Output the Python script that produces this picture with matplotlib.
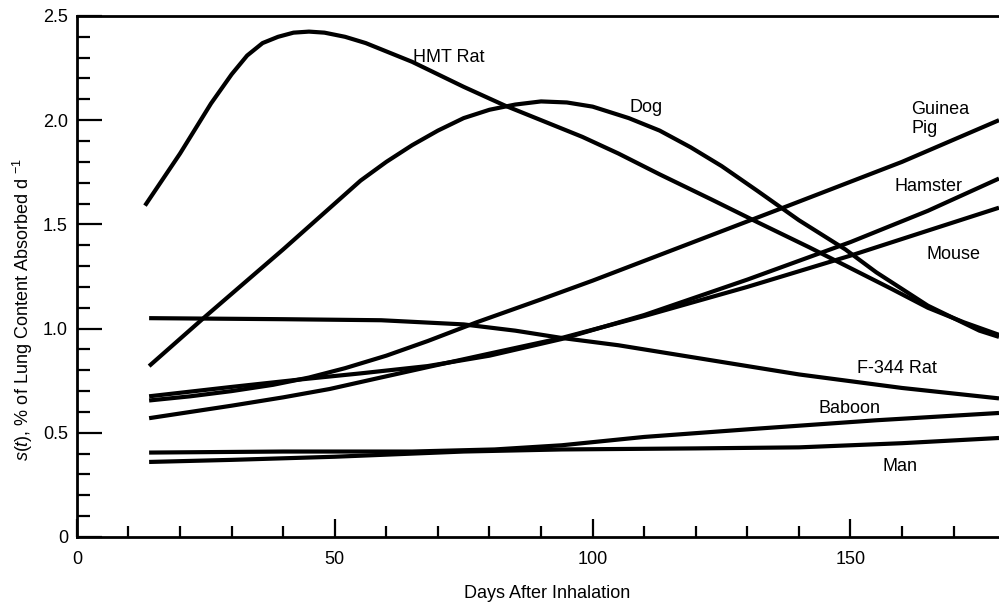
import matplotlib
matplotlib.use("Agg")
import matplotlib.pyplot as plt
from matplotlib.ticker import MultipleLocator

plt.rcParams['font.family'] = ['Liberation Sans', 'DejaVu Sans']
plt.rcParams['mathtext.fontset'] = 'custom'
plt.rcParams['mathtext.rm'] = 'Liberation Sans'
plt.rcParams['mathtext.it'] = 'Liberation Sans:italic'

# data (days, % of lung content absorbed per day)
hmt_x = [13.2, 20, 26, 30, 33, 36, 39, 42, 45, 48, 52, 56, 60, 65, 70, 75, 83, 90, 98, 105, 113, 123, 132,
         142, 150, 158, 165, 172, 178.8]
hmt_y = [1.59, 1.84, 2.08, 2.22, 2.31, 2.37, 2.40, 2.42, 2.425, 2.42, 2.40, 2.37, 2.33, 2.28, 2.22, 2.16, 2.07,
         2.00, 1.92, 1.84, 1.74, 1.62, 1.51, 1.39, 1.29, 1.19, 1.10, 1.03, 0.97]

dog_x = [14, 25, 40, 55, 60, 65, 70, 75, 80, 85, 90, 95, 100, 107, 113, 119, 125, 132, 140, 149, 155, 160,
         165, 170, 175, 178.8]
dog_y = [0.82, 1.06, 1.38, 1.71, 1.80, 1.88, 1.95, 2.01, 2.05, 2.075, 2.09, 2.085, 2.065, 2.01, 1.95, 1.87,
         1.78, 1.66, 1.52, 1.38, 1.27, 1.19, 1.11, 1.05, 0.99, 0.96]

gpig_x = [14, 22, 30, 38, 45, 52, 60, 68, 77.5, 90, 100, 119, 138, 160, 178.8]
gpig_y = [0.655, 0.675, 0.70, 0.73, 0.765, 0.81, 0.87, 0.94, 1.03, 1.14, 1.23, 1.41, 1.59, 1.80, 2.00]

hamster_x = [14, 30, 43, 55, 68, 80, 94, 110, 130, 150, 165, 178.8]
hamster_y = [0.675, 0.72, 0.755, 0.785, 0.82, 0.87, 0.95, 1.065, 1.235, 1.415, 1.565, 1.72]

mouse_x = [14, 22, 30, 40, 49, 58, 68, 80, 94, 110, 130, 150, 165, 178.8]
mouse_y = [0.57, 0.60, 0.63, 0.67, 0.71, 0.76, 0.815, 0.88, 0.955, 1.06, 1.20, 1.35, 1.47, 1.58]

f344_x = [14, 40, 59, 75, 85, 94, 105, 120, 140, 160, 178.8]
f344_y = [1.05, 1.045, 1.04, 1.02, 0.99, 0.955, 0.92, 0.86, 0.78, 0.715, 0.665]

baboon_x = [14, 40, 65, 81, 94, 110, 132, 155, 178.8]
baboon_y = [0.405, 0.41, 0.41, 0.42, 0.44, 0.48, 0.52, 0.56, 0.595]

man_x = [14, 30, 50, 75, 94, 120, 140, 160, 178.8]
man_y = [0.36, 0.37, 0.385, 0.41, 0.42, 0.425, 0.43, 0.45, 0.475]

labels = ["HMT Rat", "Dog", "Guinea\nPig", "Hamster", "Mouse", "F-344 Rat", "Baboon", "Man"]
label_x = [65.1, 107.2, 161.8, 158.5, 164.7, 151.2, 143.8, 156.2]
label_y = [2.30, 2.06, 2.005, 1.68, 1.356, 0.81, 0.615, 0.337]

fig = plt.figure(figsize=(9.99, 6.03), dpi=100)
ax = fig.add_axes([0.077, 0.1095, 0.923, 0.864])

for xs, ys in [(hmt_x, hmt_y), (dog_x, dog_y), (gpig_x, gpig_y), (hamster_x, hamster_y),
               (mouse_x, mouse_y), (f344_x, f344_y), (baboon_x, baboon_y), (man_x, man_y)]:
    ax.plot(xs, ys, color='black', lw=3.0, solid_capstyle='butt', solid_joinstyle='round', clip_on=False)

for t, x, y in zip(labels, label_x, label_y):
    ax.text(x, y, t, fontsize=13, ha='left', va='center', linespacing=1.1)

ax.set_xlim(0, 178.8)
ax.set_ylim(0, 2.5)
ax.xaxis.set_minor_locator(MultipleLocator(10))
ax.yaxis.set_minor_locator(MultipleLocator(0.1))
ax.set_yticks([0, 0.5, 1.0, 1.5, 2.0, 2.5])
ax.set_yticklabels(['0', '0.5', '1.0', '1.5', '2.0', '2.5'])
ax.set_xticks([0, 50, 100, 150])
ax.set_xticklabels(['0', '50', '100', '150'])

ax.tick_params(axis='y', which='major', direction='in', length=18, width=1.6, pad=6.5, labelsize=13)
ax.tick_params(axis='y', which='minor', direction='in', length=9.5, width=1.6)
ax.tick_params(axis='x', which='major', direction='in', length=13, width=1.6, pad=10, labelsize=13)
ax.tick_params(axis='x', which='minor', direction='in', length=8, width=1.6)

ax.spines['right'].set_visible(False)
for s in ['left', 'bottom', 'top']:
    ax.spines[s].set_linewidth(2)

ax.set_xlabel('Days After Inhalation', fontsize=13)
ax.xaxis.set_label_coords(0.51, -0.092)
ax.set_ylabel(r'$s(t)$, % of Lung Content Absorbed d $^{-1}$', fontsize=13)
ax.yaxis.set_label_coords(-0.046, 0.436)

fig.savefig('out.png', dpi=100)
